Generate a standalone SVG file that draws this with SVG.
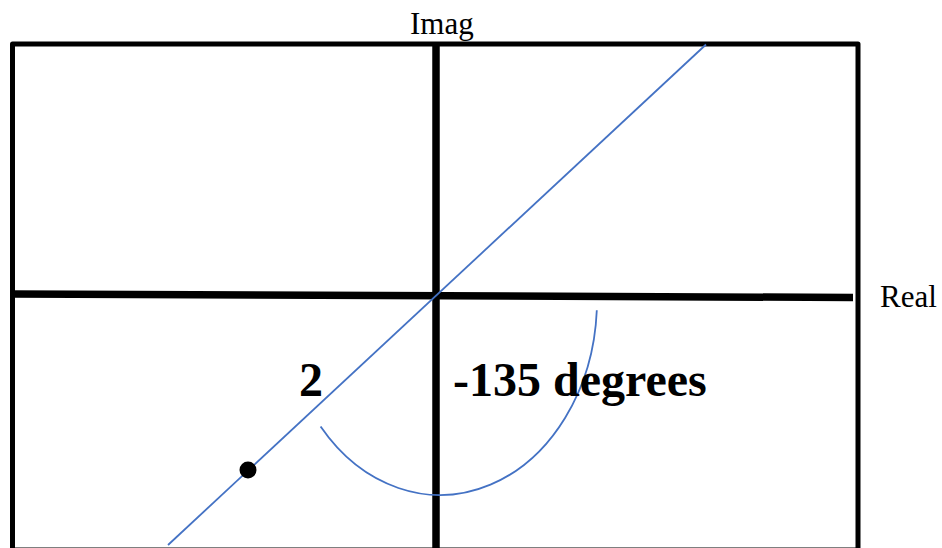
<svg xmlns="http://www.w3.org/2000/svg" width="942" height="548" viewBox="0 0 942 548">
<style>
.frame{fill:none;stroke:#000;stroke-width:5;stroke-linejoin:round}
.axis{stroke:#000;stroke-width:7.5;fill:none}
.blue{stroke:#4472C4;stroke-width:1.8;fill:none}
.lbl{font-family:"Liberation Serif","Times New Roman",serif;font-size:31px;fill:#000}
.big{font-family:"Liberation Serif","Times New Roman",serif;font-size:48px;font-weight:bold;fill:#000}
</style>
<rect width="942" height="548" fill="#fff"/>
<g id="grid">
<rect class="frame" x="12.5" y="44" width="845.5" height="506"/>
<line class="axis" x1="436" y1="44" x2="436" y2="548"/>
<line class="axis" x1="12" y1="294" x2="853" y2="297.5"/>
</g>
<g id="connectors">
<line class="blue" x1="168" y1="545" x2="706" y2="44.5"/>
<path class="blue" d="M 320.6 426.6 A 157 195 0 0 0 596.8 310.2"/>
</g>
<g id="point">
<circle cx="248" cy="470" r="8.5" fill="#000"/>
</g>
<g id="labels">
<text class="lbl" x="410" y="34">Imag</text>
<text class="lbl" x="880" y="307">Real</text>
<text class="big" x="299" y="396">2</text>
<text class="big" x="453" y="396">-135 degrees</text>
</g>
</svg>
